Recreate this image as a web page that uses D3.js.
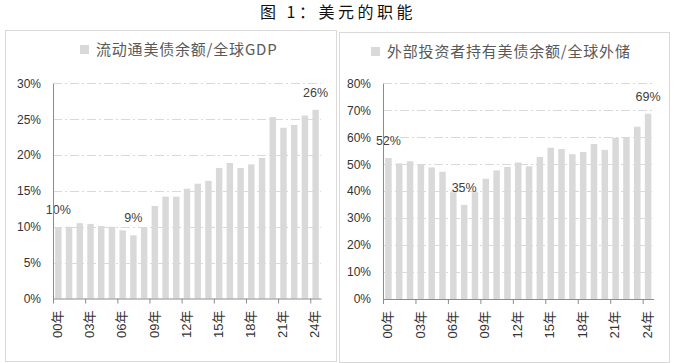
<!DOCTYPE html>
<html>
<head>
<meta charset="utf-8">
<script src="https://cdn.jsdelivr.net/npm/d3@7"></script>
<style>
  body { margin: 0; background: #fff; }
  svg { display: block; }
  text { font-family: "Liberation Sans", Arial, "Noto Sans CJK SC", sans-serif; }
</style>
</head>
<body>
<div id="chart"></div>
<script>
// years 2000 - 2024
const years = d3.range(0, 25).map(d => String(d).padStart(2, '0') + '年')
const tickYears = [0, 3, 6, 9, 12, 15, 18, 21, 24]

// 流动通美债余额/全球GDP (%)
const debtToGdp = [9.9, 10.0, 10.5, 10.4, 10.1, 10.0, 9.5, 8.8, 9.9, 12.9, 14.2, 14.2, 15.3,
  16.0, 16.4, 18.2, 18.9, 18.2, 18.7, 19.6, 25.3, 23.8, 24.2, 25.5, 26.3]
const debtLabels = [[0, '10%'], [7, '9%'], [24, '26%']]

// 外部投资者持有美债余额/全球外储 (%)
const foreignToReserves = [52.3, 50.3, 51.1, 50.0, 48.8, 47.2, 39.6, 34.9, 39.6, 44.6, 47.7, 49.0, 50.6,
  49.2, 52.7, 56.1, 55.6, 53.7, 54.5, 57.5, 55.3, 59.8, 59.8, 63.9, 68.7]
const foreignLabels = [[0, '52%'], [7, '35%'], [24, '69%']]

const W = 680, H = 363
const svg = d3.select('#chart').append('svg')
  .attr('width', W).attr('height', H)

svg.append('text')
  .attr('x', 338).attr('y', 18)
  .attr('text-anchor', 'middle')
  .style('font-family', '"Noto Sans CJK SC", sans-serif')
  .style('font-size', '16px')
  .style('font-weight', 400)
  .style('letter-spacing', '3.5px')
  .attr('fill', '#111')
  .text('图 1：美元的职能')

function drawPanel(opt) {
  const g = svg.append('g')

  g.append('rect')
    .attr('x', opt.box[0] + 0.5).attr('y', opt.box[1] + 0.5)
    .attr('width', opt.box[2]).attr('height', opt.box[3])
    .attr('fill', 'none').attr('stroke', '#d9d9d9')

  // legend
  const lg = g.append('g')
  lg.append('text')
    .attr('x', opt.legendX + 16).attr('y', opt.legendY + 5)
    .style('font-family', '"Noto Sans CJK SC", sans-serif')
    .style('font-size', '15px')
    .style('letter-spacing', '0.8px')
    .attr('fill', '#595959')
    .text(opt.legend)
  lg.append('rect')
    .attr('x', opt.legendX).attr('y', opt.legendY - 5)
    .attr('width', 9).attr('height', 9)
    .attr('fill', '#d9d9d9')

  const x = d3.scaleBand()
    .domain(years)
    .range([opt.x0, opt.x1])
    .paddingInner(0.4).paddingOuter(0.2)

  const xi = d3.scaleLinear().domain([0, years.length]).range([opt.x0, opt.x1])

  const y = d3.scaleLinear()
    .domain([0, opt.max])
    .range([opt.y0, opt.y1])

  // gridlines
  g.append('g')
    .selectAll('line')
    .data(opt.yTicks.filter(d => d > 0))
    .join('line')
    .attr('x1', opt.x0).attr('x2', opt.x1)
    .attr('y1', d => Math.round(y(d)) + 0.5).attr('y2', d => Math.round(y(d)) + 0.5)
    .attr('stroke', '#d9d9d9')
    .attr('stroke-dasharray', '9,3,2,3')

  // bars
  g.append('g')
    .selectAll('rect')
    .data(opt.values)
    .join('rect')
    .attr('x', (d, i) => x(years[i]))
    .attr('width', x.bandwidth())
    .attr('y', d => y(d))
    .attr('height', d => y(0) - y(d))
    .attr('fill', '#d9d9d9')

  // data labels
  g.append('g')
    .selectAll('text')
    .data(opt.labels)
    .join('text')
    .attr('x', d => x(years[d[0]]) + x.bandwidth() / 2)
    .attr('y', d => y(opt.values[d[0]]) - 13)
    .attr('text-anchor', 'middle')
    .style('font-size', '12.5px')
    .attr('fill', '#404040')
    .text(d => d[1])

  // y axis
  const yAxis = g.append('g')
    .attr('transform', `translate(${opt.x0},0)`)
    .call(d3.axisLeft(y).tickValues(opt.yTicks).tickSize(0).tickPadding(12)
      .tickFormat(d => Math.round(d * 100) + '%'))
  yAxis.select('.domain').attr('stroke', '#8c8c8c')
  yAxis.selectAll('text')
    .style('font-size', '12px')
    .style('font-family', '"Liberation Sans", Arial, sans-serif')
    .attr('fill', '#333')

  // x axis
  const xAxis = g.append('g')
    .attr('transform', `translate(0,${opt.y0})`)
    .call(d3.axisBottom(xi).tickValues(tickYears).tickSize(5).tickSizeOuter(0)
      .tickFormat(d => years[d]))
  xAxis.select('.domain').attr('stroke', '#8c8c8c')
  xAxis.selectAll('.tick line').attr('stroke', '#8c8c8c')
  xAxis.selectAll('text')
    .attr('transform', 'rotate(-90)')
    .attr('x', -12).attr('y', 4).attr('dy', '0.35em')
    .attr('text-anchor', 'end')
    .style('font-size', '13px')
    .attr('fill', '#333')
}

drawPanel({
  box: [5, 30, 331, 331],
  legend: '流动通美债余额/全球GDP',
  legendX: 80, legendY: 50,
  x0: 53, x1: 321, y0: 298.5, y1: 83.3,
  max: 0.30,
  yTicks: [0, 0.05, 0.10, 0.15, 0.20, 0.25, 0.30],
  values: debtToGdp.map(v => v / 100),
  labels: debtLabels
})

drawPanel({
  box: [339, 32, 330, 330],
  legend: '外部投资者持有美债余额/全球外储',
  legendX: 371, legendY: 52,
  x0: 383, x1: 653.5, y0: 299, y1: 83.3,
  max: 0.80,
  yTicks: [0, 0.1, 0.2, 0.3, 0.4, 0.5, 0.6, 0.7, 0.8],
  values: foreignToReserves.map(v => v / 100),
  labels: foreignLabels
})
</script>
</body>
</html>
